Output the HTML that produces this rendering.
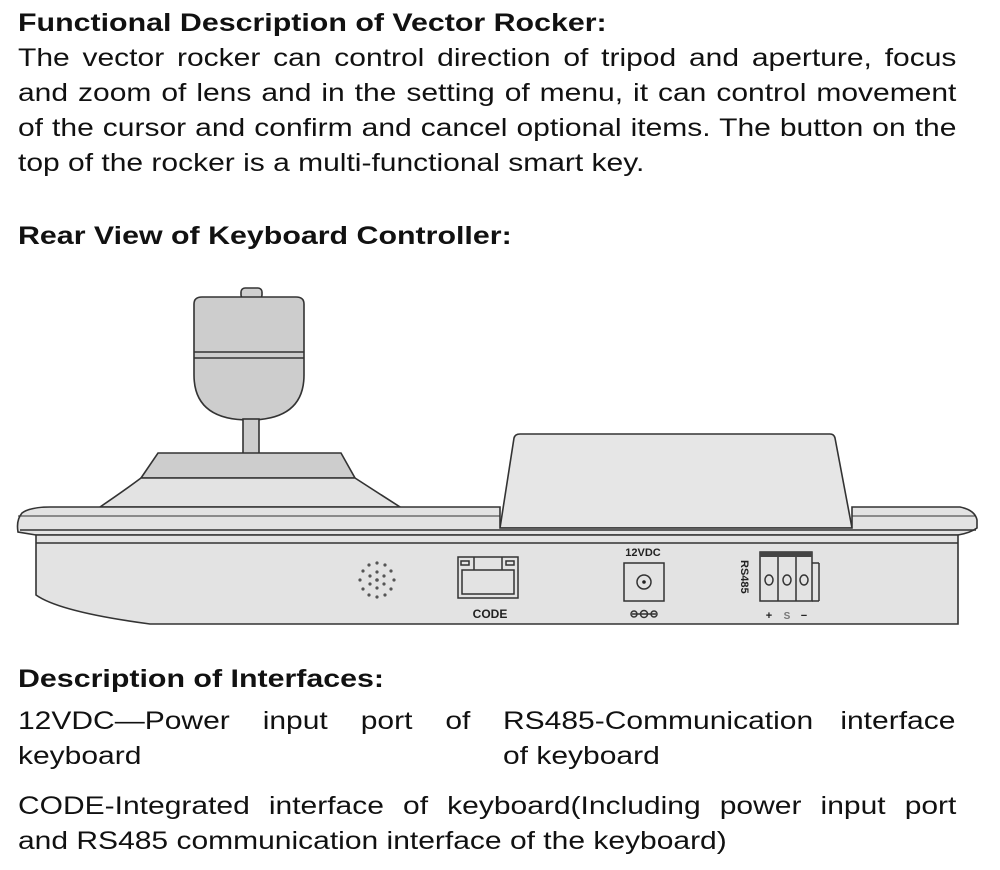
<!DOCTYPE html>
<html><head><meta charset="utf-8"><style>
body{margin:0;width:1000px;height:870px;background:#fff;position:relative;overflow:hidden;font-family:"Liberation Sans",Arial,sans-serif;color:#111}
.t{position:absolute;font-size:25px;line-height:35px;margin:0;transform:scaleX(1.2);transform-origin:0 0;white-space:nowrap}
.t div{white-space:normal}
.b{font-weight:bold;font-size:25.3px}
.j{text-align:justify;text-align-last:justify}
</style></head><body>
<div class="t b" style="left:18px;top:6px">Functional Description of Vector Rocker:</div>
<div class="t" style="left:18px;top:41px;width:782px">
<div class="j">The vector rocker can control direction of tripod and aperture, focus</div>
<div class="j">and zoom of lens and in the setting of menu, it can control movement</div>
<div class="j">of the cursor and confirm and cancel optional items. The button on the</div>
<div>top of the rocker is a multi-functional smart key.</div>
</div>
<div class="t b" style="left:18px;top:219px">Rear View of Keyboard Controller:</div>

<svg style="position:absolute;left:0;top:0" width="1000" height="870" viewBox="0 0 1000 870">
<g stroke="#333" stroke-width="1.6" fill="#e3e3e3">
<path d="M500 528 L514 438 Q515 434 520 434 L830 434 Q834 434 835 438 L852 528 Z" fill="#e6e6e6"/>
<rect x="241" y="288" width="21" height="11" rx="4" fill="#d0d0d0"/>
<path d="M194 304 Q194 297 202 297 L296 297 Q304 297 304 304 L304 375 Q304 420 249 420 Q194 420 194 375 Z" fill="#cdcdcd"/>
<line x1="194" y1="352" x2="304" y2="352"/><line x1="194" y1="358" x2="304" y2="358"/>
<rect x="243" y="419" width="16" height="35" fill="#cdcdcd"/>
<path d="M158 453 L341 453 L355 478 L141 478 Z" fill="#cdcdcd"/>
<path d="M141 478 L355 478 L400 507 L100 507 Q125 490 141 478 Z" fill="#e3e3e3"/>
<path d="M22 513 Q30 507 50 507 L500 507 L500 528 L852 528 L852 507 L960 507 Q975 510 977 520 L977 528 Q970 533 958 535 L36 535 L18 532 Q16 520 22 513 Z" fill="#e3e3e3"/>
<line x1="18" y1="516" x2="500" y2="516" stroke-width="1"/>
<line x1="852" y1="516" x2="976" y2="516" stroke-width="1"/>
<line x1="20" y1="530" x2="976" y2="530"/>
<path d="M36 535 L958 535 L958 624 L150 624 Q60 612 36 595 Z" fill="#e3e3e3"/>
<line x1="36" y1="543" x2="958" y2="543"/>
</g>
<g fill="#555">
<circle cx="377" cy="580" r="1.8"/>
<circle cx="377" cy="572" r="1.6"/><circle cx="384" cy="576" r="1.6"/><circle cx="384" cy="584" r="1.6"/><circle cx="377" cy="588" r="1.6"/><circle cx="370" cy="584" r="1.6"/><circle cx="370" cy="576" r="1.6"/>
<circle cx="377" cy="563" r="1.6"/><circle cx="385" cy="565" r="1.6"/><circle cx="391" cy="571" r="1.6"/><circle cx="394" cy="580" r="1.6"/><circle cx="391" cy="589" r="1.6"/><circle cx="385" cy="595" r="1.6"/><circle cx="377" cy="597" r="1.6"/><circle cx="369" cy="595" r="1.6"/><circle cx="363" cy="589" r="1.6"/><circle cx="360" cy="580" r="1.6"/><circle cx="363" cy="571" r="1.6"/><circle cx="369" cy="565" r="1.6"/>
</g>
<g stroke="#333" stroke-width="1.5" fill="none">
<rect x="458" y="557" width="60" height="41"/>
<rect x="462" y="570" width="52" height="24"/>
<line x1="474" y1="557" x2="474" y2="570"/><line x1="502" y1="557" x2="502" y2="570"/>
<rect x="461" y="561" width="8" height="4"/><rect x="506" y="561" width="8" height="4"/>
<rect x="624" y="563" width="40" height="38"/>
<circle cx="644" cy="582" r="7"/>
<rect x="760" y="552" width="52" height="49"/>
<line x1="778" y1="552" x2="778" y2="601"/><line x1="796" y1="552" x2="796" y2="601"/>
<line x1="812" y1="563" x2="819" y2="563"/><line x1="819" y1="563" x2="819" y2="601"/><line x1="812" y1="601" x2="819" y2="601"/>
<ellipse cx="769" cy="580" rx="4" ry="5"/><ellipse cx="787" cy="580" rx="4" ry="5"/><ellipse cx="804" cy="580" rx="4" ry="5"/>
<line x1="632" y1="614" x2="656" y2="614"/>
<circle cx="634" cy="614" r="3"/><circle cx="644" cy="614" r="3.5"/><circle cx="654" cy="614" r="3"/>
</g>
<rect x="760" y="552" width="52" height="5" fill="#444"/>
<circle cx="644" cy="582" r="1.8" fill="#222"/>
<g font-family="Liberation Sans,Arial,sans-serif" font-weight="bold" fill="#222">
<text x="490" y="618" font-size="12" text-anchor="middle">CODE</text>
<text x="643" y="556" font-size="11" text-anchor="middle">12VDC</text>
<text transform="translate(741,560) rotate(90)" font-size="11">RS485</text>
<text x="769" y="619" font-size="11" text-anchor="middle">+</text>
<text x="787" y="619" font-size="10" text-anchor="middle" fill="#777">S</text>
<text x="804" y="619" font-size="11" text-anchor="middle">−</text>
</g>
</svg>

<div class="t b" style="left:18px;top:662px">Description of Interfaces:</div>
<div class="t" style="left:18px;top:704px;width:377px"><div class="j">12VDC—Power input port of</div><div>keyboard</div></div>
<div class="t" style="left:503px;top:704px;width:377px"><div class="j">RS485-Communication interface</div><div>of keyboard</div></div>
<div class="t" style="left:18px;top:789px;width:782px"><div class="j">CODE-Integrated interface of keyboard(Including power input port</div><div>and RS485 communication interface of the keyboard)</div></div>
</body></html>
